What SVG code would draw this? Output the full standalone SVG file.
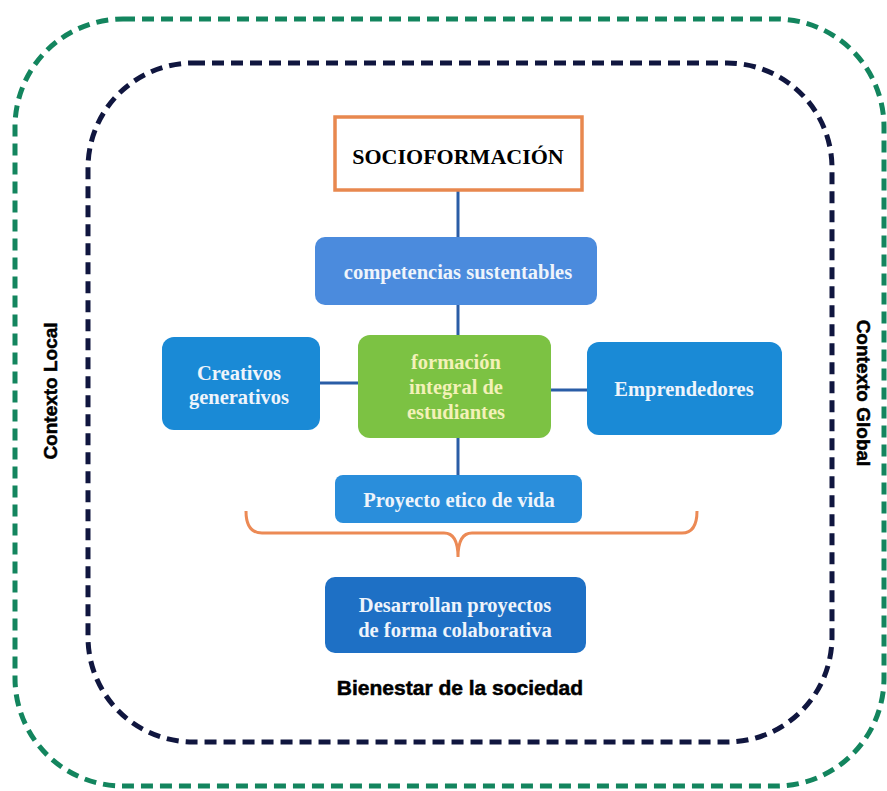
<svg xmlns="http://www.w3.org/2000/svg" width="887" height="791" viewBox="0 0 887 791">
<style>
.frame{fill:none;stroke-width:5;stroke-dasharray:12 7;}
.box text{font-family:"Liberation Serif",serif;font-weight:bold;font-size:20.5px;text-anchor:middle;}
.wt{fill:#EEF4FB;}
.side{font-family:"Liberation Sans",Arial,sans-serif;font-weight:bold;font-size:19px;text-anchor:middle;fill:#000;stroke:#000;stroke-width:0.5;}
.conn line{stroke:#2A5DA6;stroke-width:3;}
</style>
<rect width="887" height="791" fill="#fff"/>
<g id="outer-frame"><rect class="frame" x="15" y="19" width="869" height="767" rx="108" stroke="#13855E"/></g>
<g id="inner-frame"><rect class="frame" x="88" y="63" width="744" height="679" rx="105" stroke="#10163F"/></g>
<g id="connectors" class="conn">
<line x1="458" y1="190" x2="458" y2="237"/>
<line x1="458" y1="305" x2="458" y2="336"/>
<line x1="320" y1="383" x2="358" y2="383"/>
<line x1="551" y1="390" x2="587" y2="390"/>
<line x1="458" y1="438" x2="458" y2="475"/>
<path d="M246,511 Q246,533 262,533 L444,533 Q458,533 458,557 Q458,533 472,533 L682,533 Q697,533 697,511" fill="none" stroke="#EC8A55" stroke-width="3"/>
</g>
<g id="socioformacion" class="box"><rect x="335" y="117" width="247" height="73" fill="#fff" stroke="#E8884F" stroke-width="3.5"/><text x="458" y="164" fill="#000" style="font-size:22px">SOCIOFORMACIÓN</text></g>
<g id="competencias" class="box"><rect x="315" y="237" width="282" height="68" rx="10" fill="#4B8BDD"/><text class="wt" x="458" y="279">competencias sustentables</text></g>
<g id="creativos" class="box"><rect x="162" y="337" width="158" height="93" rx="12" fill="#1A8AD6"/><text class="wt" x="239" y="380">Creativos</text><text class="wt" x="239" y="404">generativos</text></g>
<g id="formacion" class="box"><rect x="358" y="335" width="193" height="103" rx="12" fill="#7CC243"/><text x="456" y="369" fill="#F3F1B8">formación</text><text x="456" y="394" fill="#F3F1B8">integral de</text><text x="456" y="419" fill="#F3F1B8">estudiantes</text></g>
<g id="emprendedores" class="box"><rect x="587" y="342" width="195" height="93" rx="12" fill="#1A8AD6"/><text class="wt" x="684" y="396">Emprendedores</text></g>
<g id="proyecto" class="box"><rect x="335" y="475" width="247" height="48" rx="8" fill="#2A8EDB"/><text class="wt" x="459" y="507">Proyecto etico de vida</text></g>
<g id="desarrollan" class="box"><rect x="325" y="577" width="261" height="76" rx="10" fill="#1E70C5"/><text class="wt" x="455" y="612">Desarrollan proyectos</text><text class="wt" x="455" y="637">de forma colaborativa</text></g>
<g id="bienestar"><text class="side" x="460" y="695" style="font-size:21px">Bienestar de la sociedad</text></g>
<g id="contexto-local"><text class="side" transform="translate(57,391) rotate(-90)">Contexto Local</text></g>
<g id="contexto-global"><text class="side" transform="translate(857,393) rotate(90)">Contexto Global</text></g>
</svg>
